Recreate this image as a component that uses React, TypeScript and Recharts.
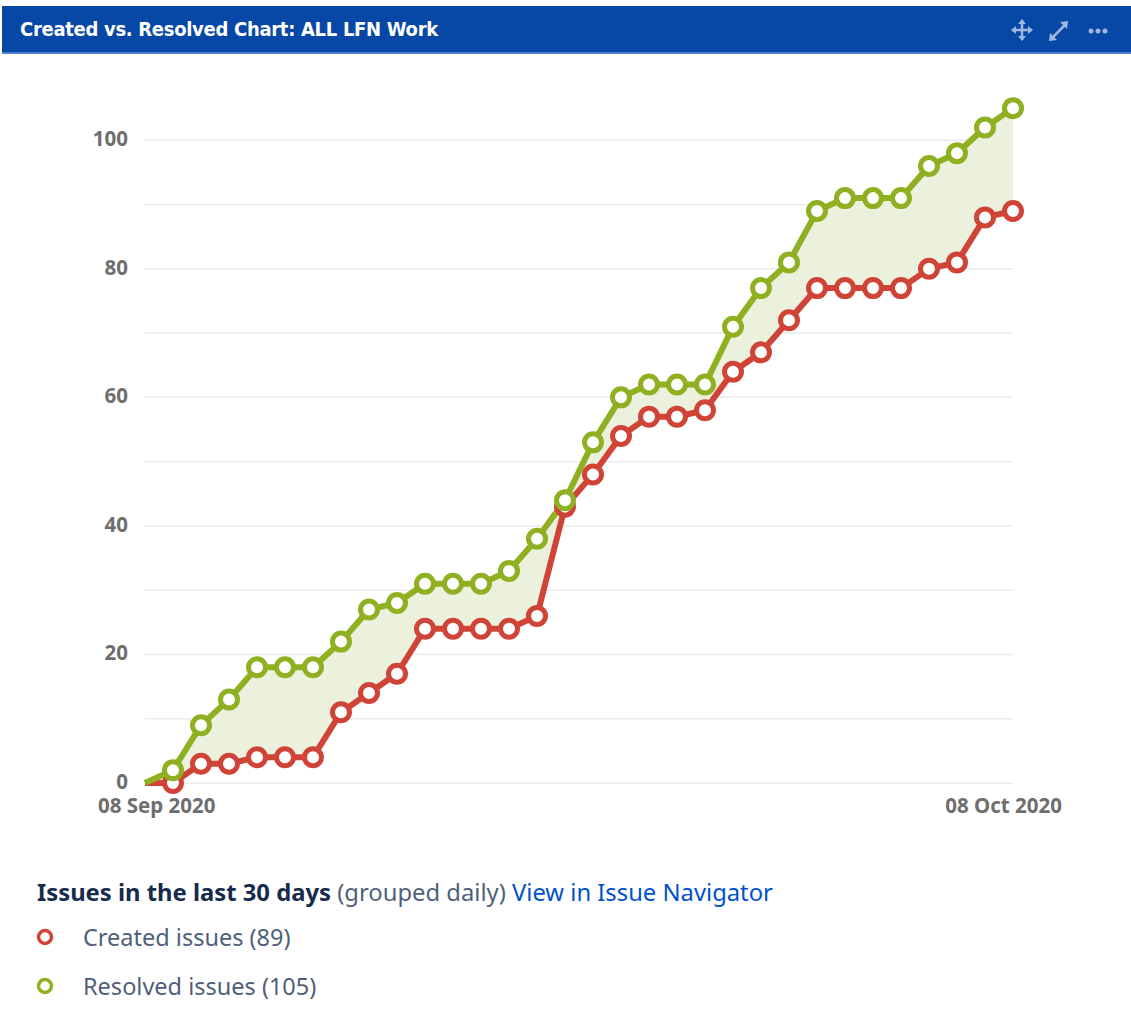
import { ComposedChart, Line, Area, XAxis, YAxis, CartesianGrid } from "recharts";

const dayIndex = [
  0, 1, 2, 3, 4, 5, 6, 7, 8, 9, 10, 11, 12, 13, 14, 15, 16, 17, 18, 19, 20, 21, 22, 23, 24, 25, 26, 27, 28, 29,
  30, 31,
];
const created = [
  0, 0, 3, 3, 4, 4, 4, 11, 14, 17, 24, 24, 24, 24, 26, 43, 48, 54, 57, 57, 58, 64, 67, 72, 77, 77, 77, 77, 80, 81,
  88, 89,
];
const resolved = [
  0, 2, 9, 13, 18, 18, 18, 22, 27, 28, 31, 31, 31, 33, 38, 44, 53, 60, 62, 62, 62, 71, 77, 81, 89, 91, 91, 91, 96,
  98, 102, 105,
];
const yTicks = [0, 10, 20, 30, 40, 50, 60, 70, 80, 90, 100];
const xTickLabels: Record<number, string> = { 0: "08 Sep 2020", 31: "08 Oct 2020" };

const RED = "#d04437";
const GREEN = "#8eb021";
const FONT = "'Noto Sans', 'Open Sans', sans-serif";

const data = dayIndex.map((d, i) => ({
  day: d,
  created: created[i],
  resolved: resolved[i],
  band: [created[i], resolved[i]],
}));

function YTick({ x, y, payload }: any) {
  if (payload.value % 20 !== 0) return null;
  return (
    <text x={x} y={y} dy={6} textAnchor="end" fill="#6e6e6e" fontSize={20.5} fontWeight={700} fontFamily={FONT}>
      {payload.value}
    </text>
  );
}

function XTick({ x, y, payload }: any) {
  const label = xTickLabels[payload.value];
  if (!label) return null;
  const first = payload.value === 0;
  return (
    <text
      x={first ? x - 47 : x + 49}
      y={y}
      dy={22}
      textAnchor={first ? "start" : "end"}
      fill="#6e6e6e"
      fontSize={20.5}
      fontWeight={700}
      fontFamily={FONT}
    >
      {label}
    </text>
  );
}

function makeDot(color: string) {
  return (props: any) => {
    const { cx, cy, index } = props;
    if (index === 0) return <g key={`d${index}`} />;
    return <circle key={`d${index}`} cx={cx} cy={cy} r={8.5} fill="#fff" stroke={color} strokeWidth={5} />;
  };
}

function HeaderIcons() {
  const c = "#9fb6e0";
  return (
    <svg width={110} height={30} style={{ position: "absolute", right: 13, top: 10 }}>
      <g stroke={c} strokeWidth={2.5} fill={c} strokeLinecap="round">
        <line x1={14} y1={5} x2={14} y2={23} />
        <line x1={5} y1={14} x2={23} y2={14} />
        <polygon points="14,3 10,8 18,8" stroke="none" />
        <polygon points="14,25 10,20 18,20" stroke="none" />
        <polygon points="3,14 8,10 8,18" stroke="none" />
        <polygon points="25,14 20,10 20,18" stroke="none" />
        <line x1={44} y1={22} x2={58} y2={8} />
        <polygon points="60,5 52,6 59,13" stroke="none" />
        <polygon points="41,25 42,17 49,24" stroke="none" />
        <circle cx={83} cy={15} r={2.5} stroke="none" />
        <circle cx={90} cy={15} r={2.5} stroke="none" />
        <circle cx={97} cy={15} r={2.5} stroke="none" />
      </g>
    </svg>
  );
}

export default function App() {
  return (
    <div
      style={{
        position: "absolute",
        left: 0,
        top: 0,
        width: 1131,
        height: 1036,
        background: "#fff",
        fontFamily: FONT,
        overflow: "hidden",
      }}
    >
      <div
        style={{
          position: "absolute",
          left: 2,
          top: 6,
          width: 1129,
          height: 46,
          background: "#0747a6",
          borderBottom: "2px solid #4c7fcf",
        }}
      >
        <div
          style={{
            position: "absolute",
            left: 18,
            top: 11,
            color: "#fff",
            fontSize: 20,
            fontWeight: 700,
            fontFamily: "'DejaVu Sans Condensed', 'Liberation Sans Narrow', sans-serif",
            letterSpacing: -0.3,
            whiteSpace: "nowrap",
          }}
        >
          Created vs. Resolved Chart: ALL LFN Work
        </div>
        <HeaderIcons />
      </div>

      <div style={{ position: "absolute", left: 0, top: 0 }}>
        <ComposedChart width={1131} height={840} data={data} margin={{ top: 76, right: 118, bottom: 27, left: 0 }}>
          <CartesianGrid vertical={false} stroke="#ebebeb" strokeWidth={1.5} horizontalValues={yTicks} />
          <XAxis
            dataKey="day"
            type="number"
            domain={[0, 31]}
            ticks={[0, 31]}
            height={30}
            axisLine={false}
            tickLine={false}
            tickSize={0}
            tickMargin={8}
            tick={<XTick />}
          />
          <YAxis
            type="number"
            domain={[0, 110]}
            ticks={yTicks}
            width={145}
            axisLine={false}
            tickLine={false}
            tickSize={0}
            tickMargin={17}
            tick={<YTick />}
          />
          <Area
            dataKey="band"
            type="linear"
            fill="#ebf1dc"
            fillOpacity={1}
            stroke="none"
            isAnimationActive={false}
          />
          <Line
            dataKey="created"
            type="linear"
            stroke={RED}
            strokeWidth={6}
            dot={makeDot(RED)}
            activeDot={false}
            isAnimationActive={false}
          />
          <Line
            dataKey="resolved"
            type="linear"
            stroke={GREEN}
            strokeWidth={6}
            dot={makeDot(GREEN)}
            activeDot={false}
            isAnimationActive={false}
          />
        </ComposedChart>
      </div>

      <div style={{ position: "absolute", left: 37, top: 876, fontSize: 23.8, whiteSpace: "nowrap", color: "#172b4d" }}>
        <span style={{ fontWeight: 700 }}>Issues in the last 30 days</span>{" "}
        <span style={{ color: "#505f79" }}>(grouped daily)</span>{" "}
        <span style={{ color: "#0052cc" }}>View in Issue Navigator</span>
      </div>
      {[
        { label: "Created issues (89)", color: RED, top: 921 },
        { label: "Resolved issues (105)", color: GREEN, top: 970 },
      ].map((item) => (
        <div
          key={item.label}
          style={{ position: "absolute", left: 36, top: item.top, height: 32, display: "flex", alignItems: "center" }}
        >
          <svg width={18} height={18}>
            <circle cx={9} cy={9} r={6.5} fill="#fff" stroke={item.color} strokeWidth={3.5} />
          </svg>
          <span style={{ marginLeft: 29, fontSize: 23.5, color: "#505f79" }}>{item.label}</span>
        </div>
      ))}
    </div>
  );
}
